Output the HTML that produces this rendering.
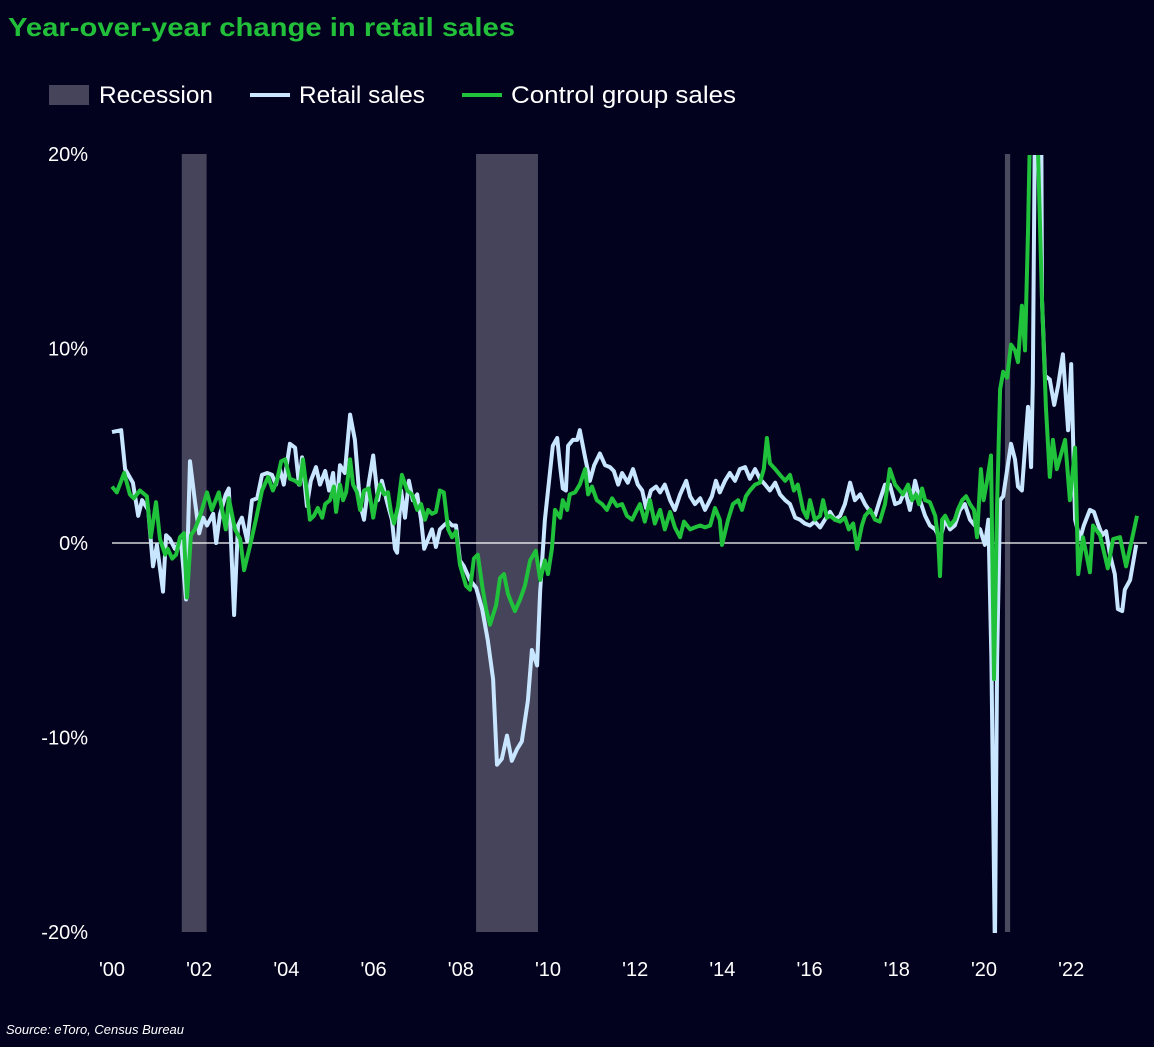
<!DOCTYPE html>
<html><head><meta charset="utf-8">
<style>
html,body{margin:0;padding:0;background:#03021e;}
body{width:1154px;height:1042px;overflow:hidden;position:relative;font-family:"Liberation Sans",sans-serif;}
svg text{font-family:"Liberation Sans",sans-serif;}
</style></head>
<body>
<svg id="chart" width="1154" height="1042" viewBox="0 0 1154 1042" xmlns="http://www.w3.org/2000/svg">
<rect x="0" y="0" width="1154" height="1042" fill="#03021e"/>
<text x="8" y="36" fill="#22c03a" font-size="26" font-weight="bold" textLength="507" lengthAdjust="spacingAndGlyphs">Year-over-year change in retail sales</text>
<g>
<rect x="49" y="85" width="40" height="20" fill="#45445a"/>
<text x="99" y="103" fill="#ffffff" font-size="24" textLength="114" lengthAdjust="spacingAndGlyphs">Recession</text>
<line x1="250" y1="95" x2="290" y2="95" stroke="#c8e6ff" stroke-width="4"/>
<text x="299" y="103" fill="#ffffff" font-size="24" textLength="126" lengthAdjust="spacingAndGlyphs">Retail sales</text>
<line x1="462" y1="95" x2="502" y2="95" stroke="#1fc23a" stroke-width="4"/>
<text x="511" y="103" fill="#ffffff" font-size="24" textLength="225" lengthAdjust="spacingAndGlyphs">Control group sales</text>
</g>
<defs><clipPath id="plotclip"><rect x="100" y="155" width="1054" height="778"/></clipPath></defs>
<g id="recessions"></g>
<g id="yaxis"></g>
<g id="xaxis"></g>
<g id="series" clip-path="url(#plotclip)"></g>
<text x="6" y="1034" fill="#ffffff" font-size="13" font-style="italic">Source: eToro, Census Bureau</text>
</svg>
<script>
const recStart=[2001.6,2008.35,2020.48];
const recEnd=[2002.17,2009.77,2020.6];
const yTicks=[20,10,0,-10,-20];
const yTickLabels=["20%","10%","0%","-10%","-20%"];
const xTicks=[2000,2002,2004,2006,2008,2010,2012,2014,2016,2018,2020,2022];
const xTickLabels=["'00","'02","'04","'06","'08","'10","'12","'14","'16","'18","'20","'22"];

const retailDates=[0,0.21,0.30,0.48,0.60,0.69,0.83,0.94,1.03,1.17,1.24,1.33,1.44,1.58,1.70,1.79,1.90,2.00,2.09,2.18,2.32,2.39,2.48,2.61,2.68,2.80,2.89,2.98,3.10,3.21,3.33,3.44,3.56,3.67,3.76,3.85,3.94,4.08,4.20,4.29,4.36,4.47,4.56,4.68,4.77,4.89,4.98,5.07,5.14,5.23,5.34,5.46,5.57,5.69,5.78,5.89,5.99,6.10,6.19,6.31,6.42,6.49,6.54,6.63,6.72,6.81,6.90,7.00,7.09,7.16,7.25,7.34,7.43,7.52,7.61,7.71,7.80,7.89,7.98,8.07,8.21,8.35,8.49,8.62,8.74,8.83,8.94,9.06,9.17,9.29,9.40,9.54,9.63,9.75,9.82,9.93,10.11,10.21,10.28,10.34,10.41,10.46,10.57,10.67,10.73,10.85,10.96,11.06,11.19,11.31,11.42,11.51,11.61,11.70,11.83,11.95,12.06,12.16,12.25,12.36,12.48,12.57,12.68,12.80,12.91,13.03,13.17,13.26,13.37,13.49,13.60,13.76,13.85,13.94,14.06,14.17,14.29,14.40,14.52,14.63,14.75,14.86,14.98,15.09,15.21,15.32,15.44,15.55,15.67,15.78,15.89,16.01,16.12,16.24,16.35,16.47,16.58,16.70,16.81,16.93,17.04,17.16,17.27,17.39,17.50,17.61,17.73,17.84,17.96,18.07,18.19,18.30,18.42,18.53,18.65,18.76,18.88,18.99,19.11,19.22,19.33,19.45,19.56,19.68,19.79,19.91,20.02,20.10,20.17,20.25,20.30,20.37,20.44,20.62,20.71,20.78,20.87,21.01,21.08,21.12,21.19,21.26,21.33,21.40,21.51,21.61,21.70,21.81,21.93,22.00,22.09,22.20,22.29,22.43,22.52,22.61,22.71,22.80,22.89,23.00,23.07,23.17,23.23,23.35,23.49];
const retailValues=[5.7,5.8,3.8,3.1,1.4,2.2,1.7,-1.2,-0.1,-2.5,0.4,0.2,-0.3,0.1,-2.9,4.2,2.2,0.5,1.3,0.9,1.5,0.0,1.5,2.5,2.8,-3.7,0.9,1.3,0.1,2.2,2.3,3.5,3.6,3.5,3.0,3.8,3.0,5.1,4.9,3.0,4.4,1.9,3.2,3.9,3.0,3.7,2.7,3.6,1.7,4.0,3.6,6.6,5.3,2.0,1.2,3.1,4.5,2.2,3.2,2.1,1.2,-0.3,-0.5,2.7,1.3,3.2,2.2,2.5,1.2,-0.3,0.2,0.7,-0.2,0.7,0.9,1.1,0.9,0.9,-0.9,-1.2,-1.9,-2.3,-3.4,-5.0,-7.0,-11.4,-11.1,-9.9,-11.2,-10.6,-10.2,-8.1,-5.5,-6.3,-2.4,1.2,5.0,5.4,3.9,2.8,2.7,5.0,5.3,5.3,5.8,4.4,3.2,4.0,4.6,4.0,3.9,3.7,3.0,3.6,3.1,3.8,3.0,2.7,1.8,2.7,2.9,2.6,3.0,2.2,1.7,2.5,3.2,2.4,2.0,2.3,1.7,2.4,3.2,2.6,3.2,3.6,3.2,3.8,3.9,3.3,3.8,3.3,3.0,2.7,3.1,2.5,2.2,2.0,1.3,1.2,1.0,0.9,1.1,0.8,1.2,1.6,1.2,1.4,2.0,3.1,2.2,2.5,2.0,1.6,1.4,2.2,3.0,3.0,2.0,2.1,2.7,1.7,3.2,2.2,1.4,0.9,0.7,0.2,1.2,0.7,0.9,1.7,2.0,1.2,0.9,0.7,-0.1,1.2,-6.0,-21.0,-6.0,2.2,2.4,5.1,4.3,2.9,2.7,7.0,3.9,8.2,28,51,12.5,8.6,8.4,7.1,8.1,9.7,5.8,9.2,1.2,0.2,0.9,1.7,1.6,1.0,0.4,0.6,-0.6,-1.6,-3.4,-3.5,-2.4,-1.9,-0.1];

const controlDates=[0,0.11,0.28,0.41,0.50,0.64,0.80,0.89,1.01,1.10,1.22,1.28,1.38,1.47,1.56,1.65,1.72,1.81,1.90,2.02,2.18,2.29,2.45,2.61,2.68,2.82,2.94,3.03,3.17,3.30,3.44,3.58,3.69,3.78,3.88,3.97,4.08,4.20,4.31,4.38,4.45,4.54,4.63,4.72,4.82,4.89,5.00,5.09,5.14,5.23,5.30,5.37,5.46,5.53,5.62,5.69,5.78,5.89,5.99,6.06,6.15,6.24,6.33,6.40,6.47,6.56,6.65,6.77,6.88,7.00,7.09,7.18,7.25,7.34,7.43,7.52,7.61,7.71,7.80,7.89,7.98,8.12,8.21,8.30,8.39,8.49,8.58,8.67,8.81,8.90,8.99,9.08,9.15,9.24,9.36,9.47,9.59,9.72,9.82,9.93,10.00,10.09,10.16,10.28,10.34,10.44,10.50,10.62,10.73,10.85,10.92,11.01,11.12,11.24,11.35,11.47,11.58,11.70,11.81,11.93,12.04,12.11,12.22,12.34,12.45,12.57,12.68,12.80,12.91,13.03,13.12,13.26,13.37,13.49,13.60,13.72,13.83,13.94,13.99,14.13,14.24,14.36,14.45,14.54,14.63,14.75,14.86,14.95,15.02,15.09,15.21,15.32,15.44,15.55,15.64,15.73,15.85,15.94,16.01,16.12,16.24,16.31,16.40,16.47,16.58,16.70,16.81,16.90,17.00,17.09,17.20,17.27,17.39,17.50,17.61,17.73,17.84,17.96,18.07,18.14,18.26,18.35,18.44,18.51,18.58,18.65,18.76,18.88,18.95,18.99,19.04,19.11,19.22,19.33,19.40,19.50,19.59,19.68,19.77,19.84,19.93,19.99,20.07,20.16,20.23,20.30,20.37,20.44,20.53,20.62,20.71,20.78,20.87,20.94,21.01,21.08,21.15,21.24,21.33,21.42,21.51,21.58,21.67,21.86,21.97,22.09,22.16,22.27,22.43,22.50,22.66,22.84,22.96,23.12,23.26,23.51];
const controlValues=[2.9,2.6,3.6,2.5,2.3,2.7,2.4,0.3,2.1,0.2,-0.6,-0.3,-0.8,-0.6,0.3,0.5,-2.8,0.4,0.7,1.4,2.6,1.7,2.6,0.7,2.3,0.7,0.2,-1.4,-0.1,1.2,2.7,3.4,2.7,3.2,4.2,4.3,3.3,3.2,3.0,4.3,3.0,1.2,1.4,1.8,1.3,2.0,2.2,2.9,1.6,3.0,2.2,2.6,4.3,3.0,2.6,1.7,2.7,2.8,1.3,2.2,3.0,2.5,2.6,1.6,1.0,1.9,3.5,2.7,2.5,1.7,2.0,1.2,1.7,1.5,1.6,2.7,2.6,0.7,0.3,0.6,-1.1,-2.2,-2.4,-0.8,-0.6,-2.2,-3.4,-4.2,-3.2,-1.8,-1.6,-2.6,-3.0,-3.5,-2.9,-2.2,-0.9,-0.4,-1.9,-0.9,-1.6,-0.3,1.7,1.3,2.2,1.7,2.5,2.6,3.0,3.8,2.5,2.9,2.2,2.0,1.7,2.3,1.9,2.0,1.4,1.2,1.7,2.0,1.1,2.2,1.0,1.7,0.7,1.6,0.8,0.3,1.1,0.7,0.8,0.9,0.8,0.9,1.8,1.2,-0.1,1.2,2.0,2.2,1.7,2.4,2.7,3.0,3.1,3.8,5.4,4.1,3.8,3.5,3.2,3.5,2.7,3.0,1.7,1.3,2.2,1.2,1.4,2.2,1.3,1.4,1.2,1.1,1.3,0.7,1.0,-0.3,0.9,1.4,1.7,1.2,1.1,2.0,3.8,3.0,2.7,2.5,3.0,2.2,2.5,2.0,2.8,2.2,2.1,1.4,0.2,-1.7,1.2,1.4,0.9,1.2,1.7,2.2,2.4,2.0,1.7,0.3,3.8,2.2,3.2,4.5,-7.0,2.0,7.9,8.8,8.5,10.2,9.9,9.3,12.2,9.9,16,24,30,20,12.5,7.0,3.4,5.3,3.8,5.3,2.2,4.9,-1.6,0.3,-1.5,0.9,0.4,-1.3,0.2,0.3,-1.2,1.4];

const X0=112, PX_PER_YEAR=43.6, Y0=543, PX_PER_PCT=19.45;
function xs(d){return X0+d*PX_PER_YEAR;}
function xYear(y){return xs(y-2000);}
function ys(v){return Y0-v*PX_PER_PCT;}
const NS="http://www.w3.org/2000/svg";
const recG=document.getElementById('recessions');
recStart.forEach((s,i)=>{
  const r=document.createElementNS(NS,'rect');
  r.setAttribute('x',xYear(s));r.setAttribute('y',ys(20));
  r.setAttribute('width',xYear(recEnd[i])-xYear(s));r.setAttribute('height',ys(-20)-ys(20));
  r.setAttribute('fill',i===2?'#4a4a5e':'#45445a');
  
  
  recG.appendChild(r);
});
const yG=document.getElementById('yaxis');
yTicks.forEach((t,i)=>{
  const tx=document.createElementNS(NS,'text');
  tx.setAttribute('x',88);tx.setAttribute('y',ys(t)+7);
  tx.setAttribute('text-anchor','end');tx.setAttribute('fill','#ffffff');tx.setAttribute('font-size','20');
  tx.textContent=yTickLabels[i];
  
  
  yG.appendChild(tx);
});
const zl=document.createElementNS(NS,'line');
zl.setAttribute('x1',112);zl.setAttribute('x2',1147);zl.setAttribute('y1',ys(0));zl.setAttribute('y2',ys(0));
zl.setAttribute('stroke','#ffffff');zl.setAttribute('stroke-width','1.2');


yG.appendChild(zl);
const xG=document.getElementById('xaxis');
xTicks.forEach((t,i)=>{
  const tx=document.createElementNS(NS,'text');
  tx.setAttribute('x',xYear(t));tx.setAttribute('y',976);
  tx.setAttribute('text-anchor','middle');tx.setAttribute('fill','#ffffff');tx.setAttribute('font-size','20');
  tx.textContent=xTickLabels[i];
  
  
  xG.appendChild(tx);
});
const sG=document.getElementById('series');
function path(dates,vals,color,name){
  let d='';
  dates.forEach((dt,i)=>{d+=(i?'L':'M')+xs(dt).toFixed(1)+','+ys(vals[i]).toFixed(1);});
  const p=document.createElementNS(NS,'path');
  p.setAttribute('d',d);p.setAttribute('fill','none');p.setAttribute('stroke',color);
  p.setAttribute('stroke-width','4');p.setAttribute('stroke-linejoin','round');
  
  
  sG.appendChild(p);
}
path(retailDates,retailValues,'#c8e6ff','retail-sales-line');
path(controlDates,controlValues,'#1fc23a','control-group-line');
</script>
</body></html>
